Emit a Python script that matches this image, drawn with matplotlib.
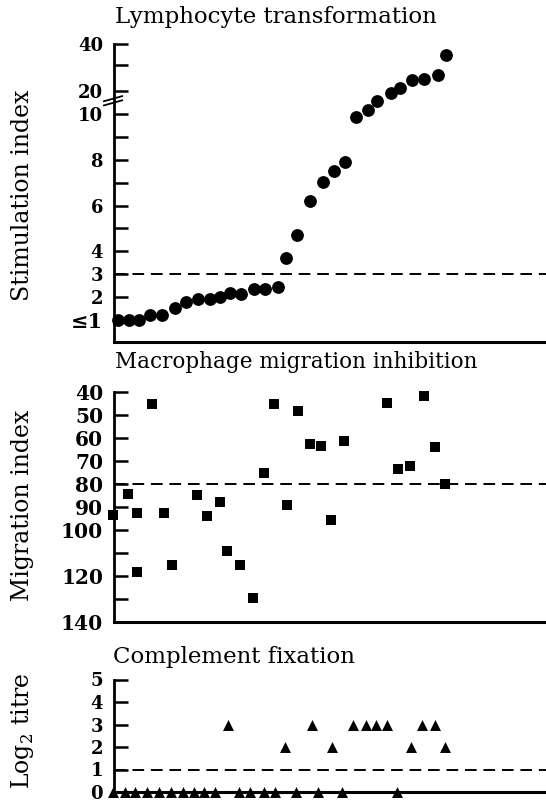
import numpy as np
import matplotlib
matplotlib.use("Agg")
import matplotlib.pyplot as plt
from matplotlib.lines import Line2D

# ---------------- data ----------------
# subject positions along the x axis (arbitrary units)
lt_x = [0.45, 1.39, 2.35, 3.29, 4.40, 5.57, 6.55, 7.66, 8.74, 9.69, 10.57, 11.62, 12.79, 13.74,
        14.91, 15.70, 16.65, 17.85, 19.03, 20.07, 21.08, 22.04, 23.17, 23.94, 25.23, 26.02,
        27.10, 28.21, 29.47, 30.20]
lt_si = [1.0, 1.0, 1.0, 1.2, 1.2, 1.5, 1.75, 1.9, 1.9, 2.0, 2.15, 2.12, 2.32, 2.32,
         2.44, 3.7, 4.7, 6.2, 7.05, 7.5, 7.9, 9.9, 11.8, 15.6, 19.2, 21.2,
         24.1, 24.6, 26.3, 34.7]

mmi_x = [-0.03, 1.30, 2.18, 2.12, 3.52, 4.63, 5.29, 7.63, 8.52, 9.69, 10.35, 11.53, 12.69,
         13.65, 14.59, 15.80, 16.75, 17.85, 18.86, 19.78, 20.99, 24.85, 25.86, 26.97,
         28.21, 29.19, 30.14]
mmi_idx = [93.6, 84.5, 92.6, 118.3, 45.4, 92.6, 115.5, 84.9, 93.9, 88.1, 109.4, 115.5, 129.9,
           75.5, 45.4, 89.1, 48.4, 62.6, 63.6, 95.7, 61.6, 45.1, 73.5, 72.5,
           41.9, 64.1, 80.1]

cf_x = [-0.03, 1.02, 1.96, 3.04, 4.15, 5.25, 6.36, 7.31, 8.26, 9.21, 10.42, 11.43, 12.38,
        13.65, 14.69, 15.57, 16.59, 18.01, 18.55, 19.82, 20.76, 21.81, 22.92, 23.87,
        24.88, 25.77, 27.04, 28.08, 29.19, 30.14]
cf_titre = [0, 0, 0, 0, 0, 0, 0, 0, 0, 0, 3, 0, 0, 0, 0, 2, 0, 3, 0, 2, 0, 3, 3, 3, 3, 0,
            2, 3, 3, 2]

lt_ticks = [1, 2, 3, 4, 5, 6, 7, 8, 9, 10, 20, 30, 40]
lt_labels = ["≤1", "2", "3", "4", "", "6", "", "8", "", "10", "20", "", "40"]
lt_cut = 3
mmi_ticks = [40, 50, 60, 70, 80, 90, 100, 110, 120, 130, 140]
mmi_labels = ["40", "50", "60", "70", "80", "90", "100", "", "120", "", "140"]
mmi_cut = 80
cf_ticks = [0, 1, 2, 3, 4, 5]
cf_cut = 1

# broken stimulation-index scale: linear 0-10, compressed above 10
_knots_v = [0, 10, 20, 30, 40]
_knots_p = [0, 10, 11.03, 12.17, 13.08]


def fwd(v):
    return np.interp(v, _knots_v, _knots_p)


def inv(p):
    return np.interp(p, _knots_p, _knots_v)


# ---------------- figure ----------------
W, H = 546, 802
fig = plt.figure(figsize=(W / 100, H / 100), dpi=100)
plt.rcParams["font.family"] = ["DejaVu Serif", "DejaVu Sans"]


def px_axes(left, top, bottom, right=W):
    return fig.add_axes([left / W, 1 - bottom / H, (right - left) / W, (bottom - top) / H])


xlim = (0, (W - 113.5) / 11)

ax1 = px_axes(113.5, 44.3, 342.3)
ax2 = px_axes(113.5, 391.7, 621.7)
ax3 = px_axes(113.5, 679.5, 792)

for ax in (ax1, ax2, ax3):
    ax.set_xlim(*xlim)
    for s in ("top", "right"):
        ax.spines[s].set_visible(False)
    ax.spines["left"].set_linewidth(2.0)
    ax.spines["bottom"].set_linewidth(2.2)
    ax.set_xticks([])
    ax.tick_params(axis="y", direction="in", length=10, width=1.8, pad=7.5)
    ax.patch.set_alpha(0)

dash = dict(color="black", lw=1.4, dashes=(6, 3.5))

# panel 1
ax1.set_yscale("function", functions=(fwd, inv))
ax1.set_ylim(0, 40)
ax1.set_yticks(lt_ticks)
ax1.set_yticklabels(lt_labels, fontsize=13, fontweight="bold")
ax1.get_yticklabels()[0].set_fontsize(15)
ax1.axhline(lt_cut, **dash)
ax1.scatter(lt_x, lt_si, s=85, marker="o", color="black", clip_on=False, zorder=3, linewidths=0)
# axis break marks
for dy in (0.0, 0.014):
    ax1.add_line(Line2D([-0.022, 0.02], [0.795 + dy, 0.812 + dy], transform=ax1.transAxes,
                        color="black", lw=1.3, clip_on=False))

# panel 2
ax2.set_ylim(140, 40)
ax2.set_yticks(mmi_ticks)
ax2.set_yticklabels(mmi_labels, fontsize=14.5, fontweight="bold")
ax2.axhline(mmi_cut, **dash)
ax2.scatter(mmi_x, mmi_idx, s=55, marker="s", color="black", clip_on=False, zorder=3, linewidths=0)

# panel 3
ax3.set_ylim(0, 5)
ax3.set_yticks(cf_ticks)
ax3.set_yticklabels([str(t) for t in cf_ticks], fontsize=13, fontweight="bold")
ax3.axhline(cf_cut, **dash)
ax3.scatter(cf_x, cf_titre, s=62, marker="^", color="black", clip_on=False, zorder=3, linewidths=0)

# titles
fig.text(115 / W, 1 - 17 / H, "Lymphocyte transformation", fontsize=16.5, ha="left", va="center")
fig.text(115 / W, 1 - 362 / H, "Macrophage migration inhibition", fontsize=15.5, ha="left", va="center")
fig.text(113 / W, 1 - 657 / H, "Complement fixation", fontsize=16.5, ha="left", va="center")

# y labels
fig.text(23 / W, 1 - 195 / H, "Stimulation index", fontsize=17, rotation=90, ha="center", va="center")
fig.text(23 / W, 1 - 505 / H, "Migration index", fontsize=17, rotation=90, ha="center", va="center")
fig.text(22 / W, 1 - 731 / H, r"Log$_{\mathregular{2}}$ titre", fontsize=17, rotation=90,
         ha="center", va="center")

fig.savefig("out.png", dpi=100)
